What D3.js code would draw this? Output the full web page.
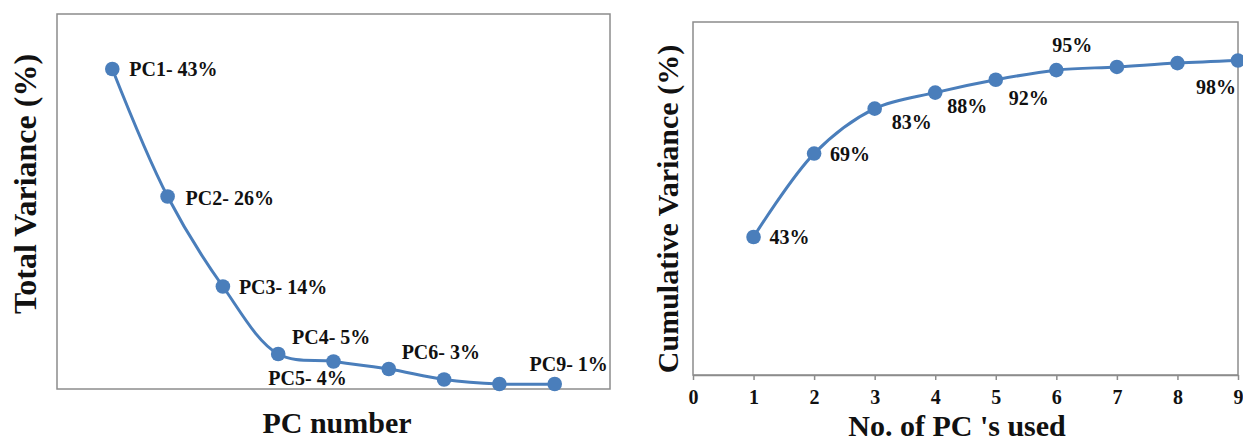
<!DOCTYPE html>
<html>
<head>
<meta charset="utf-8">
<script src="https://cdn.jsdelivr.net/npm/d3@7"></script>
<style>
  html, body { margin: 0; padding: 0; background: #fff; }
  svg { display: block; }
  text { font-family: "Liberation Serif", "Times New Roman", serif; font-weight: bold; fill: #111; }
</style>
</head>
<body>
<svg id="chart" width="1243" height="441"></svg>
<script>
// Variance explained by each principal component (%)
const pcNumbers = [1, 2, 3, 4, 5, 6, 7, 8, 9];
const pcVariance = [43, 26, 14, 5, 4, 3, 1.6, 1.0, 1];
const pcLabels = ["PC1- 43%", "PC2- 26%", "PC3- 14%", "PC4- 5%", "PC5- 4%", "PC6- 3%", "", "", "PC9- 1%"];

// Cumulative variance when using the first n components (%)
const pcsUsed = [1, 2, 3, 4, 5, 6, 7, 8, 9];
const cumulativeVariance = [43, 69, 83, 88, 92, 95, 96, 97.2, 98];
const cumulativeLabels = ["43%", "69%", "83%", "88%", "92%", "95%", "", "", "98%"];

// Axis ticks for the cumulative chart
const cumulativeTicks = [0, 1, 2, 3, 4, 5, 6, 7, 8, 9];

// Label placement relative to each point (dx, dy in px; anchor)
const pcLabelPlacement = [
  { dx: 17, dy: 0, anchor: "start" },
  { dx: 18, dy: 1, anchor: "start" },
  { dx: 16, dy: 0, anchor: "start" },
  { dx: 53, dy: -17, anchor: "middle" },
  { dx: -26, dy: 16, anchor: "middle" },
  { dx: 52, dy: -17, anchor: "middle" },
  null, null,
  { dx: 14, dy: -20, anchor: "middle" }
];
const cumLabelPlacement = [
  { dx: 16, dy: 0, anchor: "start" },
  { dx: 16, dy: 0, anchor: "start" },
  { dx: 17, dy: 13, anchor: "start" },
  { dx: 12, dy: 13, anchor: "start" },
  { dx: 13, dy: 18, anchor: "start" },
  { dx: 16, dy: -25, anchor: "middle" },
  null, null,
  { dx: -2, dy: 26, anchor: "end" }
];

const BLUE = "#4a7ebb";
const FRAME = "#8c8c8c";
const svg = d3.select("#chart");

function drawSeries(g, xs, ys, x, y, labels, placement) {
  const pts = xs.map((d, i) => [x(d), y(ys[i])]);
  g.append("path")
    .attr("d", d3.line().curve(d3.curveCatmullRom.alpha(0.5))(pts))
    .attr("fill", "none")
    .attr("stroke", BLUE)
    .attr("stroke-width", 3);
  g.selectAll("circle.pt").data(pts).join("circle")
    .attr("class", "pt")
    .attr("cx", d => d[0]).attr("cy", d => d[1]).attr("r", 7.3)
    .attr("fill", BLUE);
  g.selectAll("text.lbl").data(labels.map((t, i) => ({ t, i })).filter(d => d.t && placement[d.i]))
    .join("text")
    .attr("class", "lbl")
    .attr("x", d => pts[d.i][0] + placement[d.i].dx)
    .attr("y", d => pts[d.i][1] + placement[d.i].dy)
    .attr("dy", "0.35em")
    .attr("text-anchor", d => placement[d.i].anchor)
    .attr("font-size", 20)
    .text(d => d.t);
}

// ---- Left: scree plot ----
{
  const left = 57, right = 610, top = 14, bottom = 389;
  const x = d3.scaleLinear().domain([0, 10]).range([left, right]);
  // value axis is hidden; its zero sits just under the frame's bottom edge
  const y = d3.scaleLinear().domain([0, 50]).range([bottom + 2.5, top + 2.5]);
  const g = svg.append("g");
  g.append("rect")
    .attr("x", left).attr("y", top)
    .attr("width", right - left).attr("height", bottom - top)
    .attr("fill", "none").attr("stroke", FRAME).attr("stroke-width", 1.5);
  drawSeries(g, pcNumbers, pcVariance, x, y, pcLabels, pcLabelPlacement);
  g.append("text")
    .attr("transform", `translate(36,184) rotate(-90)`)
    .attr("text-anchor", "middle")
    .attr("font-size", 32)
    .text("Total Variance (%)");
  g.append("text")
    .attr("x", 337).attr("y", 433)
    .attr("text-anchor", "middle")
    .attr("font-size", 30)
    .text("PC number");
}

// ---- Right: cumulative variance ----
{
  const left = 693, right = 1238, top = 22, bottom = 375;
  const x = d3.scaleLinear().domain([0, 9]).range([left, right]);
  const y = d3.scaleLinear().domain([0, 110]).range([bottom, top]);
  const g = svg.append("g");
  g.append("rect")
    .attr("x", left).attr("y", top)
    .attr("width", right - left).attr("height", bottom - top)
    .attr("fill", "none").attr("stroke", FRAME).attr("stroke-width", 1.5);
  const axis = g.append("g")
    .attr("transform", `translate(0,${bottom})`)
    .call(d3.axisBottom(x).tickValues(cumulativeTicks).tickFormat(d3.format("d")).tickSizeInner(5).tickSizeOuter(0).tickPadding(10));
  axis.select(".domain").attr("stroke", FRAME).attr("stroke-width", 1.5);
  axis.selectAll(".tick line").attr("stroke", FRAME).attr("stroke-width", 1.5);
  axis.selectAll(".tick text")
    .attr("font-size", 20)
    .attr("font-family", "Liberation Serif, serif")
    .attr("font-weight", "bold")
    .attr("fill", "#111");
  drawSeries(g, pcsUsed, cumulativeVariance, x, y, cumulativeLabels, cumLabelPlacement);
  g.append("text")
    .attr("transform", `translate(678,209) rotate(-90)`)
    .attr("text-anchor", "middle")
    .attr("font-size", 30)
    .text("Cumulative Variance (%)");
  g.append("text")
    .attr("x", 957).attr("y", 436)
    .attr("text-anchor", "middle")
    .attr("font-size", 30)
    .text("No. of PC 's used");
}
</script>
</body>
</html>
